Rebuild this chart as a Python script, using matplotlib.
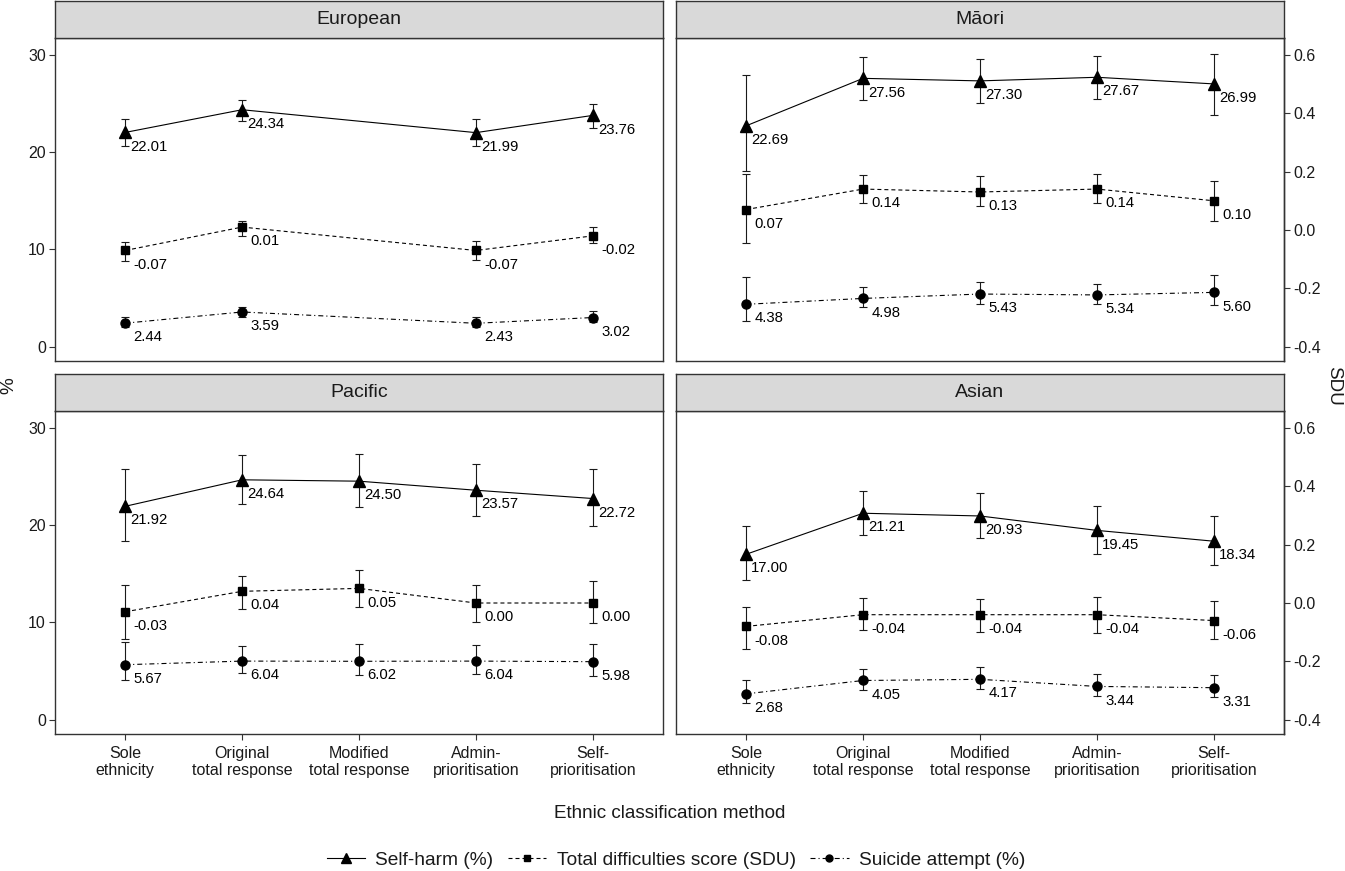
import numpy as np
import matplotlib
matplotlib.use("Agg")
import matplotlib.pyplot as plt
from matplotlib.lines import Line2D

plt.rcParams['font.family'] = ['Liberation Sans', 'DejaVu Sans']
plt.rcParams['axes.unicode_minus'] = False

# ---------------- data ----------------
groups = ["European", "Māori", "Pacific", "Asian"]
categories = ["Sole\nethnicity", "Original\ntotal response", "Modified\ntotal response",
              "Admin-\nprioritisation", "Self-\nprioritisation"]
nan = np.nan

selfharm = [[22.01, 24.34, nan, 21.99, 23.76],
            [22.69, 27.56, 27.30, 27.67, 26.99],
            [21.92, 24.64, 24.50, 23.57, 22.72],
            [17.00, 21.21, 20.93, 19.45, 18.34]]
selfharm_lo = [[20.6, 23.15, nan, 20.6, 22.5],
               [18.1, 25.3, 25.0, 25.4, 23.85],
               [18.4, 22.2, 21.85, 20.95, 19.85],
               [14.4, 18.95, 18.7, 17.05, 15.95]]
selfharm_hi = [[23.35, 25.35, nan, 23.35, 24.9],
               [27.95, 29.7, 29.5, 29.85, 30.1],
               [25.75, 27.15, 27.25, 26.3, 25.7],
               [19.85, 23.5, 23.3, 21.95, 20.95]]

sdu = [[-0.07, 0.01, nan, -0.07, -0.02],
       [0.07, 0.14, 0.13, 0.14, 0.10],
       [-0.03, 0.04, 0.05, 0.00, 0.00],
       [-0.08, -0.04, -0.04, -0.04, -0.06]]
sdu_lo = [[-0.105, -0.019, nan, -0.104, -0.045],
          [-0.044, 0.091, 0.083, 0.093, 0.031],
          [-0.123, -0.022, -0.013, -0.065, -0.068],
          [-0.157, -0.093, -0.100, -0.101, -0.122]]
sdu_hi = [[-0.042, 0.031, nan, -0.039, 0.011],
          [0.193, 0.187, 0.184, 0.190, 0.169],
          [0.061, 0.094, 0.113, 0.061, 0.075],
          [-0.012, 0.018, 0.012, 0.021, 0.008]]

suicide = [[2.44, 3.59, nan, 2.43, 3.02],
           [4.38, 4.98, 5.43, 5.34, 5.60],
           [5.67, 6.04, 6.02, 6.04, 5.98],
           [2.68, 4.05, 4.17, 3.44, 3.31]]
suicide_lo = [[2.0, 3.05, nan, 2.0, 2.55],
              [2.65, 4.15, 4.45, 4.45, 4.3],
              [4.05, 4.85, 4.6, 4.7, 4.55],
              [1.75, 3.1, 3.2, 2.5, 2.35]]
suicide_hi = [[3.05, 4.15, nan, 3.05, 3.65],
              [7.2, 6.15, 6.7, 6.5, 7.35],
              [7.95, 7.55, 7.75, 7.65, 7.8],
              [4.15, 5.25, 5.45, 4.75, 4.6]]

series_names = ["Self-harm (%)", "Total difficulties score (SDU)", "Suicide attempt (%)"]
pct_ticks = [0, 10, 20, 30]
sdu_ticks = [-0.4, -0.2, 0.0, 0.2, 0.4, 0.6]


# secondary axis mapping: % = (SDU + 0.4) * 30
def sdu_to_pct(s):
    return (np.asarray(s, dtype=float) + 0.4) * 30.0


def pct_to_sdu(p):
    return np.asarray(p, dtype=float) / 30.0 - 0.4


def ident(v):
    return np.asarray(v, dtype=float)


series = [
    dict(v=selfharm, lo=selfharm_lo, hi=selfharm_hi, tf=ident, marker='^', ms=8.4,
         ls='-', dx=3.6),
    dict(v=sdu, lo=sdu_lo, hi=sdu_hi, tf=sdu_to_pct, marker='s', ms=6.2,
         ls=(0, (3.6, 2.7)), dx=6.0),
    dict(v=suicide, lo=suicide_lo, hi=suicide_hi, tf=ident, marker='o', ms=6.5,
         ls=(0, (4.5, 2.7, 1.0, 2.7)), dx=6.0),
]

# ---------------- layout ----------------
W, H = 1345, 871
fig = plt.figure(figsize=(W / 100, H / 100), dpi=100)

edge = '#333333'
txtc = '#1a1a1a'
col_x = [55 / W, 676 / W]
pw = 608 / W
ph = 323 / H
row_top = [38, 411]      # panel top in px
strip_h = 37 / H

x = np.arange(1, len(categories) + 1)

for i, g in enumerate(groups):
    r, c = divmod(i, 2)
    y0 = 1 - (row_top[r] + 323) / H
    ax = fig.add_axes([col_x[c], y0, pw, ph])
    # strip
    sax = fig.add_axes([col_x[c], 1 - row_top[r] / H, pw, strip_h])
    sax.set_facecolor('#D9D9D9')
    sax.set_xticks([]); sax.set_yticks([])
    for sp in sax.spines.values():
        sp.set_color(edge); sp.set_linewidth(1.0)
    sax.text(0.5, 0.5, g, ha='center', va='center', fontsize=14, color=txtc,
             transform=sax.transAxes)

    for s in series:
        v = np.array(s['v'][i], dtype=float)
        lo = np.array(s['lo'][i], dtype=float)
        hi = np.array(s['hi'][i], dtype=float)
        m = ~np.isnan(v)
        xs = x[m]
        ys = s['tf'](v[m])
        ylo = s['tf'](lo[m])
        yhi = s['tf'](hi[m])
        ax.errorbar(xs, ys, yerr=[ys - ylo, yhi - ys], fmt='none', ecolor='#1a1a1a',
                    elinewidth=0.8, capsize=3.2, capthick=0.8, zorder=2)
        ax.plot(xs, ys, color='black', lw=0.8, linestyle=s['ls'], marker=s['marker'],
                ms=s['ms'], mec='black', mfc='black', zorder=3)
        for xi, yi, vi in zip(xs, ys, v[m]):
            ax.annotate(f"{vi:.2f}", (xi, yi), xytext=(s['dx'], -10.2),
                        textcoords='offset points', ha='left', va='center',
                        fontsize=10.7, color='black')

    ax.set_xlim(0.4, 5.6)
    ax.set_ylim(-1.44, 31.7)
    ax.set_xticks(x)
    ax.set_yticks(pct_ticks)
    for sp in ax.spines.values():
        sp.set_color(edge); sp.set_linewidth(1.0)
    ax.tick_params(axis='both', length=4, width=0.8, color=edge, labelsize=11.5,
                   labelcolor=txtc, pad=2.5)
    if r == 1:
        ax.set_xticklabels(categories, linespacing=1.15)
        ax.tick_params(axis='x', pad=4.5)
    else:
        ax.tick_params(axis='x', bottom=False, labelbottom=False)
    if c == 1:
        ax.tick_params(axis='y', left=False, labelleft=False)
        sec = ax.secondary_yaxis('right', functions=(pct_to_sdu, sdu_to_pct))
        sec.set_yticks(sdu_ticks)
        sec.set_yticklabels([f"{t:.1f}" for t in sdu_ticks])
        sec.tick_params(axis='y', length=4, width=0.8, color=edge, labelsize=11.5,
                        labelcolor=txtc, pad=2.5)
        sec.spines['right'].set_color(edge)
        sec.spines['right'].set_linewidth(1.0)

fig.text(669.5 / W, 1 - 813 / H, "Ethnic classification method", ha='center',
         va='center', fontsize=13.6, color=txtc)
fig.text(9 / W, 1 - 386 / H, "%", ha='center', va='center', rotation=90,
         fontsize=13.6, color=txtc)
fig.text(1334 / W, 1 - 386 / H, "SDU", ha='center', va='center', rotation=-90,
         fontsize=13.6, color=txtc)

handles = [
    Line2D([0], [0], color='black', lw=0.8, linestyle=series[0]['ls'], marker='^', ms=6.5),
    Line2D([0], [0], color='black', lw=0.8, linestyle=series[1]['ls'], marker='s', ms=5),
    Line2D([0], [0], color='black', lw=0.8, linestyle=series[2]['ls'], marker='o', ms=5),
]
fig.legend(handles, series_names, loc='center', bbox_to_anchor=(676 / W, 1 - 860 / H),
           ncol=3, frameon=False, fontsize=13.8, handlelength=2.0, handletextpad=0.55,
           columnspacing=0.75, labelcolor=txtc)

fig.savefig("out.png", dpi=100)
